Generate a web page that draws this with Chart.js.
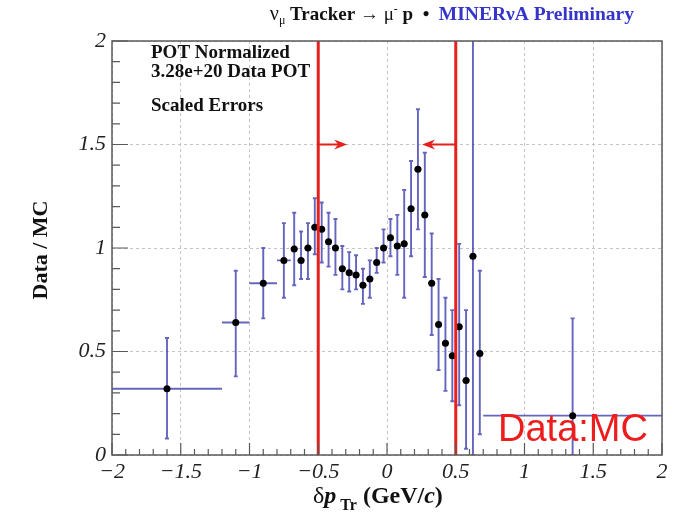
<!DOCTYPE html>
<html>
<head>
<meta charset="utf-8">
<script src="https://cdn.jsdelivr.net/npm/chart.js@4.4.1/dist/chart.umd.min.js"></script>
<style>
html, body { margin: 0; padding: 0; background: #fff; }
</style>
</head>
<body>
<canvas id="my-chart" width="676" height="524"></canvas>
<script>
// bins of delta p_Tr (GeV/c): centre, low edge, high edge
var binCenters = [-1.6, -1.1, -0.9, -0.75, -0.675, -0.625, -0.575, -0.525, -0.475, -0.425, -0.375, -0.325, -0.275, -0.225, -0.175, -0.125, -0.075, -0.025,
  0.025, 0.075, 0.125, 0.175, 0.225, 0.275, 0.325, 0.375, 0.425, 0.475, 0.525, 0.575, 0.625, 0.675, 1.35];
var binLow = [-2, -1.2, -1.0, -0.8, -0.7, -0.65, -0.6, -0.55, -0.5, -0.45, -0.4, -0.35, -0.3, -0.25, -0.2, -0.15, -0.1, -0.05,
  0, 0.05, 0.1, 0.15, 0.2, 0.25, 0.3, 0.35, 0.4, 0.45, 0.5, 0.55, 0.6, 0.65, 0.7];
var binHigh = [-1.2, -1.0, -0.8, -0.7, -0.65, -0.6, -0.55, -0.5, -0.45, -0.4, -0.35, -0.3, -0.25, -0.2, -0.15, -0.1, -0.05, 0,
  0.05, 0.1, 0.15, 0.2, 0.25, 0.3, 0.35, 0.4, 0.45, 0.5, 0.55, 0.6, 0.65, 0.7, 2];
// Data / MC ratio with error band
var ratio = [0.32, 0.64, 0.83, 0.94, 0.995, 0.94, 1.0, 1.10, 1.09, 1.03, 1.0, 0.90, 0.88, 0.87, 0.82, 0.85, 0.93, 1.0,
  1.05, 1.01, 1.02, 1.19, 1.38, 1.16, 0.83, 0.63, 0.54, 0.48, 0.62, 0.36, 0.96, 0.49, 0.19];
var errLow = [0.08, 0.38, 0.66, 0.76, 0.82, 0.85, 0.85, 0.97, 0.93, 0.91, 0.87, 0.80, 0.79, 0.80, 0.73, 0.76, 0.88, 0.93,
  0.96, 0.87, 0.76, 0.96, 1.09, 0.86, 0.58, 0.41, 0.31, 0.26, 0.24, 0.03, 0.0, 0.10, 0.0];
var errHigh = [0.565, 0.89, 1.0, 1.12, 1.17, 1.08, 1.12, 1.24, 1.22, 1.17, 1.14, 1.01, 0.98, 0.965, 0.90, 0.94, 1.0, 1.09,
  1.14, 1.16, 1.28, 1.42, 1.67, 1.46, 1.07, 0.85, 0.76, 0.70, 1.02, 0.70, 2.5, 0.89, 0.66];

var cutValues = [-0.5, 0.5];
var arrowEnds = [-0.29, 0.255];
var arrowLevel = 1.5;

var barColor = 'rgba(62,62,175,0.8)';
var cutColor = '#e4211c';
var serif = '"Liberation Serif", "DejaVu Serif", serif';

function fmt(v) {
  return String(v).replace('-', '\u2212');
}

var overlay = {
  id: 'overlay',
  beforeDatasetsDraw: function (chart) {
    var ctx = chart.ctx, xs = chart.scales.x, ys = chart.scales.y, a = chart.chartArea;
    ctx.save();
    ctx.beginPath();
    ctx.rect(a.left, a.top, a.right - a.left, a.bottom - a.top);
    ctx.clip();
    ctx.strokeStyle = barColor;
    ctx.lineWidth = 1.9;
    for (var i = 0; i < ratio.length; i++) {
      var px = xs.getPixelForValue(binCenters[i]);
      var py = ys.getPixelForValue(ratio[i]);
      var top = ys.getPixelForValue(errHigh[i]);
      var bot = ys.getPixelForValue(errLow[i]);
      ctx.beginPath();
      ctx.moveTo(px, top); ctx.lineTo(px, bot);
      ctx.moveTo(xs.getPixelForValue(binLow[i]), py);
      ctx.lineTo(xs.getPixelForValue(binHigh[i]), py);
      // little end marks
      ctx.moveTo(px - 2, top); ctx.lineTo(px + 2, top);
      ctx.moveTo(px - 2, bot); ctx.lineTo(px + 2, bot);
      ctx.stroke();
    }
    ctx.restore();
  },
  afterDraw: function (chart) {
    var ctx = chart.ctx, xs = chart.scales.x, ys = chart.scales.y, a = chart.chartArea;
    var v, p, big;
    ctx.save();

    // frame + inward ticks
    ctx.strokeStyle = '#5a5a5a';
    ctx.lineWidth = 1.5;
    ctx.strokeRect(a.left, a.top, a.right - a.left, a.bottom - a.top);
    ctx.lineWidth = 1.2;
    ctx.beginPath();
    for (v = -20; v <= 20; v++) {
      p = xs.getPixelForValue(v / 10);
      big = (v % 5 === 0);
      ctx.moveTo(p, a.bottom); ctx.lineTo(p, a.bottom - (big ? 12 : 6));
    }
    for (v = 0; v <= 20; v++) {
      p = ys.getPixelForValue(v / 10);
      big = (v % 5 === 0);
      ctx.moveTo(a.left, p); ctx.lineTo(a.left + (big ? 16 : 8), p);
    }
    ctx.stroke();

    // arrows from the cut lines
    ctx.strokeStyle = cutColor;
    ctx.fillStyle = cutColor;
    ctx.lineWidth = 2;
    var ay = ys.getPixelForValue(arrowLevel);
    for (var i = 0; i < cutValues.length; i++) {
      var x0 = xs.getPixelForValue(cutValues[i]);
      var x1 = xs.getPixelForValue(arrowEnds[i]);
      var dir = x1 > x0 ? 1 : -1;
      ctx.beginPath();
      ctx.moveTo(x0, ay); ctx.lineTo(x1 - dir * 6, ay);
      ctx.stroke();
      ctx.beginPath();
      ctx.moveTo(x1, ay);
      ctx.lineTo(x1 - dir * 13, ay - 5);
      ctx.lineTo(x1 - dir * 9, ay);
      ctx.lineTo(x1 - dir * 13, ay + 5);
      ctx.closePath();
      ctx.fill();
    }

    // title
    var segs = [
      { t: '\u03bd', f: '20px ' + serif, dy: 0, c: '#111' },
      { t: '\u03bc', f: '12px ' + serif, dy: 4, c: '#111' },
      { t: ' Tracker ', f: 'bold 19px ' + serif, dy: 0, c: '#111' },
      { t: '\u2192', f: '19px ' + serif, dy: 0, c: '#111' },
      { t: ' \u03bc', f: '19px ' + serif, dy: 0, c: '#111' },
      { t: '-', f: '12px ' + serif, dy: -7, c: '#111' },
      { t: ' p  \u2022  ', f: 'bold 19px ' + serif, dy: 0, c: '#111' },
      { t: 'MINER\u03bdA Preliminary', f: 'bold 19.5px ' + serif, dy: 0, c: '#3535cc' }
    ];
    var total = 0, k;
    for (k = 0; k < segs.length; k++) { ctx.font = segs[k].f; total += ctx.measureText(segs[k].t).width; }
    var tx = 634 - total;
    ctx.textBaseline = 'alphabetic';
    ctx.textAlign = 'left';
    for (k = 0; k < segs.length; k++) {
      ctx.font = segs[k].f;
      ctx.fillStyle = segs[k].c;
      ctx.fillText(segs[k].t, tx, 20 + segs[k].dy);
      tx += ctx.measureText(segs[k].t).width;
    }

    // info text
    ctx.fillStyle = '#111';
    ctx.font = 'bold 19px ' + serif;
    ctx.fillText('POT Normalized', 151, 58);
    ctx.fillText('3.28e+20 Data POT', 151, 77);
    ctx.fillText('Scaled Errors', 151, 111);

    // y title
    ctx.save();
    ctx.translate(40, 250);
    ctx.rotate(-Math.PI / 2);
    ctx.textAlign = 'center';
    ctx.font = 'bold 22px ' + serif;
    ctx.fillText('Data / MC', 0, 7);
    ctx.restore();

    // x title
    var xsegs = [
      { t: '\u03b4', f: '24px ' + serif, dy: 0 },
      { t: 'p', f: 'italic bold 24px ' + serif, dy: 0 },
      { t: ' Tr', f: 'bold 16px ' + serif, dy: 7 },
      { t: ' (GeV/', f: 'bold 24px ' + serif, dy: 0 },
      { t: 'c', f: 'italic bold 24px ' + serif, dy: 0 },
      { t: ')', f: 'bold 24px ' + serif, dy: 0 }
    ];
    var xt = 313;
    ctx.fillStyle = '#111';
    for (k = 0; k < xsegs.length; k++) {
      ctx.font = xsegs[k].f;
      ctx.fillText(xsegs[k].t, xt, 503 + xsegs[k].dy);
      xt += ctx.measureText(xsegs[k].t).width;
    }

    // Data:MC label
    ctx.fillStyle = '#ee1d1d';
    ctx.font = '38px "Liberation Sans", Arial, sans-serif';
    ctx.fillText('Data:MC', 498, 441);
    ctx.restore();
  }
};

var points = binCenters.map(function (x, i) { return { x: x, y: ratio[i] }; });

var ctx = document.getElementById('my-chart').getContext('2d');
var myChart = new Chart(ctx, {
  type: 'scatter',
  data: {
    datasets: [
      {
        label: 'cut low',
        type: 'line',
        data: [{ x: cutValues[0], y: 0 }, { x: cutValues[0], y: 2 }],
        borderColor: cutColor,
        borderWidth: 3,
        pointRadius: 0,
        showLine: true
      },
      {
        label: 'cut high',
        type: 'line',
        data: [{ x: cutValues[1], y: 0 }, { x: cutValues[1], y: 2 }],
        borderColor: cutColor,
        borderWidth: 3,
        pointRadius: 0,
        showLine: true
      },
      {
        label: 'Data / MC',
        data: points,
        pointRadius: 3.5,
        pointBackgroundColor: '#000',
        pointBorderWidth: 0,
        showLine: false
      }
    ]
  },
  options: {
    responsive: false,
    animation: false,
    layout: { padding: { top: 41, right: 14, left: 0, bottom: 0 } },
    plugins: { legend: { display: false }, tooltip: { enabled: false } },
    scales: {
      x: {
        type: 'linear',
        min: -2, max: 2,
        afterFit: function (scale) { scale.height = 69; },
        grid: { color: '#c4c4c4', drawTicks: false },
        border: { display: false, dash: [3, 3] },
        ticks: {
          stepSize: 0.5, autoSkip: false, maxRotation: 0, padding: 4,
          color: '#222',
          font: { family: serif, style: 'italic', size: 22 },
          callback: function (v) { return fmt(v); }
        }
      },
      y: {
        type: 'linear',
        min: 0, max: 2,
        afterFit: function (scale) { scale.width = 112; },
        grid: { color: '#c4c4c4', drawTicks: false },
        border: { display: false, dash: [3, 3] },
        ticks: {
          stepSize: 0.5, padding: 6,
          color: '#222',
          font: { family: serif, style: 'italic', size: 22 },
          callback: function (v) { return fmt(v); }
        }
      }
    }
  },
  plugins: [overlay]
});
</script>
</body>
</html>
